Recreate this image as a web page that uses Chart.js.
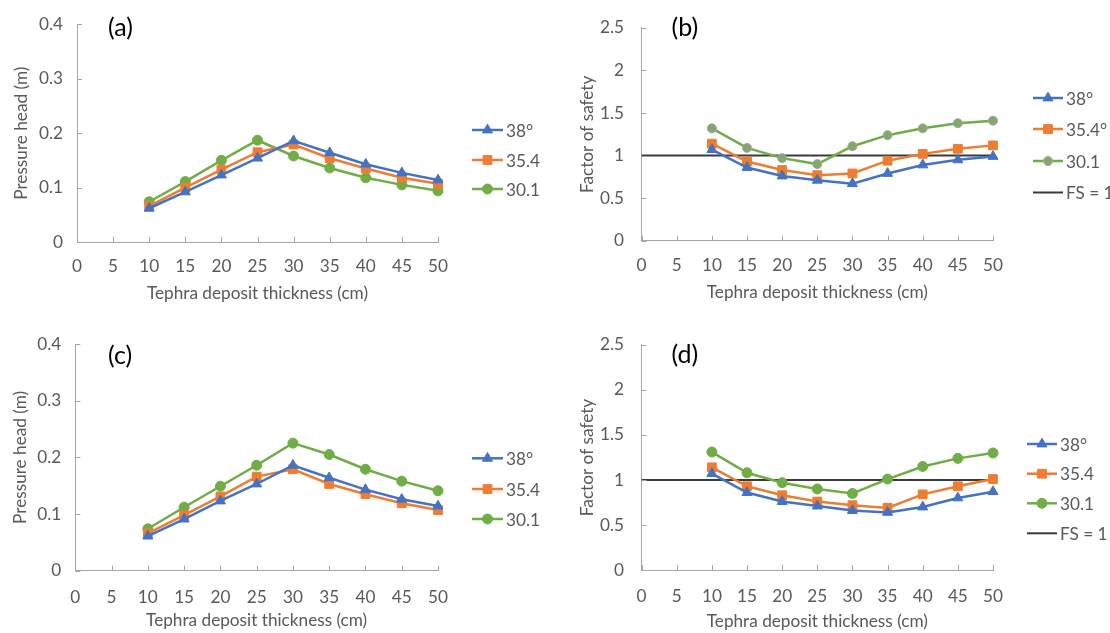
<!DOCTYPE html>
<html>
<head>
<meta charset="utf-8">
<script src="https://cdn.jsdelivr.net/npm/chart.js@4"></script>
<style>
  html, body { margin: 0; padding: 0; background: #fff; }
  #wrap { position: relative; width: 1110px; height: 633px; overflow: hidden; }
  canvas { position: absolute; }
</style>
</head>
<body>
<div id="wrap">
  <canvas id="chartA" width="555" height="317" style="left:0;top:0"></canvas>
  <canvas id="chartB" width="555" height="317" style="left:555px;top:0"></canvas>
  <canvas id="chartC" width="555" height="316" style="left:0;top:317px"></canvas>
  <canvas id="chartD" width="555" height="316" style="left:555px;top:317px"></canvas>
</div>
<script>
// thickness of the tephra deposit (cm)
const thickness = [10, 15, 20, 25, 30, 35, 40, 45, 50];
const xTicks = [0, 5, 10, 15, 20, 25, 30, 35, 40, 45, 50];

// (a) pressure head (m)
const headA38 = [0.062, 0.092, 0.123, 0.154, 0.186, 0.164, 0.143, 0.127, 0.114];
const headA354 = [0.066, 0.100, 0.133, 0.165, 0.179, 0.154, 0.135, 0.118, 0.107];
const headA301 = [0.074, 0.111, 0.150, 0.187, 0.158, 0.136, 0.118, 0.105, 0.094];

// (b) factor of safety
const fsB38 = [1.07, 0.86, 0.76, 0.71, 0.67, 0.79, 0.89, 0.95, 0.99];
const fsB354 = [1.14, 0.93, 0.83, 0.77, 0.79, 0.94, 1.02, 1.08, 1.12];
const fsB301 = [1.32, 1.09, 0.97, 0.90, 1.11, 1.24, 1.32, 1.38, 1.41];

// (c) pressure head (m)
const headC38 = [0.061, 0.091, 0.123, 0.153, 0.186, 0.164, 0.143, 0.126, 0.114];
const headC354 = [0.066, 0.098, 0.131, 0.166, 0.179, 0.153, 0.135, 0.119, 0.107];
const headC301 = [0.074, 0.112, 0.149, 0.186, 0.225, 0.205, 0.179, 0.158, 0.141];

// (d) factor of safety
const fsD38 = [1.07, 0.86, 0.76, 0.71, 0.66, 0.64, 0.70, 0.80, 0.87];
const fsD354 = [1.14, 0.93, 0.83, 0.76, 0.72, 0.69, 0.84, 0.93, 1.01];
const fsD301 = [1.31, 1.08, 0.97, 0.90, 0.85, 1.01, 1.15, 1.24, 1.30];

// FS = 1 reference line
const fsLineX = [0, 50];
const fsLineY = [1, 1];

const headTicks = [0, 0.1, 0.2, 0.3, 0.4];
const fsTicks = [0, 0.5, 1, 1.5, 2, 2.5];

const BLUE = "#4472C4";
const ORANGE = "#ED7D31";
const GREEN = "#70AD47";
const TEXT = "#595959";
const AXIS = "#A6A6A6";
const FONT = "Lato";
const FSIZE = 17.2;

Chart.defaults.font.family = FONT;
Chart.defaults.font.size = FSIZE;
Chart.defaults.color = TEXT;

function pts(xs, ys) {
    return xs.map((x, i) => ({ x: x, y: ys[i] }));
}

function series(label, values, color, style, radius, fill, border) {
    return {
        label: label,
        data: pts(thickness, values),
        borderColor: color,
        backgroundColor: fill || color,
        pointBackgroundColor: fill || color,
        pointBorderColor: border || color,
        pointBorderWidth: 1,
        pointStyle: style,
        pointRadius: radius,
        borderWidth: 2.5,
        clip: false,
    };
}

function fsLine() {
    return {
        label: "FS = 1",
        data: pts(fsLineX, fsLineY),
        borderColor: "#3A3A3A",
        backgroundColor: "#3A3A3A",
        borderWidth: 2,
        pointRadius: 0,
        pointStyle: false,
        clip: false,
    };
}

function drawMarker(ctx, ds, x, y) {
    if (!ds.pointStyle) return;
    ctx.save();
    ctx.fillStyle = ds.pointBackgroundColor;
    ctx.strokeStyle = ds.pointBorderColor;
    ctx.lineWidth = ds.pointBorderWidth;
    if (Chart.helpers && Chart.helpers.drawPoint) {
        Chart.helpers.drawPoint(ctx, {
            pointStyle: ds.pointStyle,
            radius: ds.pointRadius,
            rotation: 0,
            borderWidth: ds.pointBorderWidth,
        }, x, y);
    } else {
        ctx.beginPath();
        ctx.arc(x, y, ds.pointRadius, 0, Math.PI * 2);
        ctx.fill();
        ctx.stroke();
    }
    ctx.restore();
}

// inside tick marks, Excel style legend and the panel letter
const decor = {
    id: "decor",
    afterDraw(chart, args, opts) {
        const ctx = chart.ctx;
        const xs = chart.scales.x;
        const ys = chart.scales.y;
        const area = chart.chartArea;
        ctx.save();
        ctx.strokeStyle = AXIS;
        ctx.lineWidth = 1;
        ctx.beginPath();
        xs.ticks.forEach(t => {
            const px = Math.round(xs.getPixelForValue(t.value)) + 0.5;
            ctx.moveTo(px, area.bottom);
            ctx.lineTo(px, area.bottom - 5);
        });
        ys.ticks.forEach(t => {
            const py = Math.round(ys.getPixelForValue(t.value)) + 0.5;
            ctx.moveTo(area.left, py);
            ctx.lineTo(area.left + 5, py);
        });
        ctx.stroke();

        // legend
        const lg = opts.legend;
        ctx.font = FSIZE + "px " + FONT;
        ctx.textBaseline = "middle";
        ctx.textAlign = "left";
        chart.data.datasets.forEach((ds, i) => {
            const y = lg.rows[i];
            ctx.strokeStyle = ds.borderColor;
            ctx.lineWidth = ds.borderWidth;
            ctx.beginPath();
            ctx.moveTo(lg.x, y);
            ctx.lineTo(lg.x + lg.len, y);
            ctx.stroke();
            drawMarker(ctx, ds, lg.x + lg.len / 2, y);
            ctx.fillStyle = TEXT;
            ctx.fillText(ds.label, lg.x + lg.len + 3, y + 1);
        });

        // panel letter
        ctx.font = "25px " + FONT;
        ctx.fillStyle = "#000";
        ctx.fillText(opts.letter.text, opts.letter.x, opts.letter.y);
        ctx.restore();
    },
};

function panel(id, cfg) {
    return new Chart(document.getElementById(id), {
        type: "line",
        data: { datasets: cfg.datasets },
        options: {
            responsive: false,
            animation: false,
            devicePixelRatio: 1,
            layout: { padding: cfg.padding },
            plugins: {
                legend: { display: false },
                tooltip: { enabled: false },
                decor: { legend: cfg.legend, letter: cfg.letter },
            },
            scales: {
                x: {
                    type: "linear",
                    min: 0,
                    max: 50,
                    afterBuildTicks: s => { s.ticks = xTicks.map(v => ({ value: v })); },
                    grid: { display: false, drawTicks: false },
                    border: { display: true, color: AXIS, width: 1 },
                    ticks: { padding: cfg.xLabelPad, color: TEXT, maxRotation: 0, autoSkip: false, callback: v => String(v) },
                    title: {
                        display: true,
                        text: "Tephra deposit thickness (cm)",
                        color: TEXT,
                        padding: { top: 0, bottom: cfg.xTitlePad },
                    },
                    afterFit: s => { s.height = cfg.xHeight; },
                },
                y: {
                    type: "linear",
                    min: 0,
                    max: cfg.yTicks[cfg.yTicks.length - 1],
                    afterBuildTicks: s => { s.ticks = cfg.yTicks.map(v => ({ value: v })); },
                    grid: { display: false, drawTicks: false },
                    border: { display: true, color: AXIS, width: 1 },
                    ticks: { padding: cfg.yLabelPad, color: TEXT, autoSkip: false, callback: v => String(v) },
                    title: {
                        display: true,
                        text: cfg.yTitle,
                        color: TEXT,
                        padding: { top: cfg.yTitlePad, bottom: 0 },
                    },
                    afterFit: s => { s.width = cfg.yWidth; },
                },
            },
        },
        plugins: [decor],
    });
}

panel("chartA", {
    datasets: [
        series("38°", headA38, BLUE, "triangle", 5.8),
        series("35.4", headA354, ORANGE, "rect", 6.2),
        series("30.1", headA301, GREEN, "circle", 5),
    ],
    yTicks: headTicks,
    yTitle: "Pressure head (m)",
    padding: { left: 0, top: 15, right: 117, bottom: 0 },
    yWidth: 77, xHeight: 75,
    yLabelPad: 14, yTitlePad: 11,
    xLabelPad: 14, xTitlePad: 13,
    legend: { x: 472, len: 31, rows: [130, 160, 189] },
    letter: { text: "(a)", x: 108, y: 28 },
});

panel("chartB", {
    datasets: [
        series("38°", fsB38, BLUE, "triangle", 5.8),
        series("35.4°", fsB354, ORANGE, "rect", 6.2),
        series("30.1", fsB301, GREEN, "circle", 4.5, "#83A86A", "#A5A5A5"),
        fsLine(),
    ],
    yTicks: fsTicks,
    yTitle: "Factor of safety",
    padding: { left: 0, top: 15, right: 117, bottom: 0 },
    yWidth: 86.6, xHeight: 76.3,
    yLabelPad: 17.6, yTitlePad: 22,
    xLabelPad: 14.4, xTitlePad: 14.4,
    legend: { x: 478, len: 30, rows: [98, 129, 161, 192.5] },
    letter: { text: "(b)", x: 116.6, y: 28 },
});

panel("chartC", {
    datasets: [
        series("38°", headC38, BLUE, "triangle", 5.8),
        series("35.4", headC354, ORANGE, "rect", 6.2),
        series("30.1", headC301, GREEN, "circle", 5),
    ],
    yTicks: headTicks,
    yTitle: "Pressure head (m)",
    padding: { left: 0, top: 27, right: 117, bottom: 0 },
    yWidth: 75.3, xHeight: 62.3,
    yLabelPad: 14, yTitlePad: 10,
    xLabelPad: 16, xTitlePad: 2,
    legend: { x: 472, len: 31, rows: [141.3, 172, 202] },
    letter: { text: "(c)", x: 108, y: 39 },
});

panel("chartD", {
    datasets: [
        series("38°", fsD38, BLUE, "triangle", 5.8),
        series("35.4", fsD354, ORANGE, "rect", 6.2),
        series("30.1", fsD301, GREEN, "circle", 5),
        fsLine(),
    ],
    yTicks: fsTicks,
    yTitle: "Factor of safety",
    padding: { left: 0, top: 27, right: 117, bottom: 0 },
    yWidth: 86.6, xHeight: 63,
    yLabelPad: 17.6, yTitlePad: 22,
    xLabelPad: 16, xTitlePad: 1.5,
    legend: { x: 472, len: 30, rows: [127, 156.7, 186.3, 216.3] },
    letter: { text: "(d)", x: 116.6, y: 38 },
});
</script>
</body>
</html>
